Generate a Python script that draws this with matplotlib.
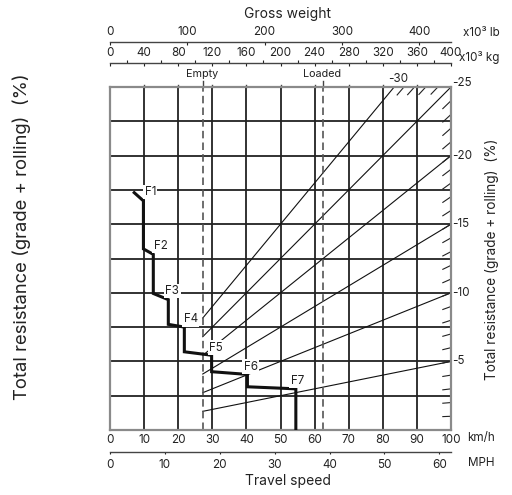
import matplotlib
matplotlib.use('Agg')
import matplotlib.pyplot as plt
import numpy as np

plt.rcParams['font.family'] = ['Inter', 'DejaVu Sans']

# ---------------- data ----------------
speed_kmh = [7.1, 9.8, 9.8, 12.7, 12.7, 17.1, 17.1, 21.8, 21.8, 29.8, 29.8, 40.3, 40.3, 54.5, 54.5]
resistance = [17.3, 16.7, 13.2, 12.8, 9.95, 9.5, 7.7, 7.5, 5.7, 5.45, 4.25, 4.05, 3.15, 3.0, 0.0]
gear_labels = ['F1', 'F2', 'F3', 'F4', 'F5', 'F6', 'F7']
gear_label_x = [11.8, 14.9, 18.3, 23.7, 31.1, 41.3, 54.9]
gear_label_y = [17.35, 13.43, 10.13, 8.06, 5.99, 4.6, 3.57]
grade_lines = [5, 10, 15, 20, 25, 30]          # total resistance %
right_ticks = [5, 10, 15, 20, 25]
right_tick_labels = ['-5', '-10', '-15', '-20', '-25']
empty_weight = 108.8    # x10^3 kg
loaded_weight = 249.6   # x10^3 kg
kmh_ticks = list(range(0, 101, 10))
mph_ticks = list(range(0, 61, 10))
kg_ticks = list(range(0, 401, 40))
lb_ticks = list(range(0, 401, 100))

KG_PER_KMH = 4.0
LB_PER_KG = 1.10231
MPH_PER_KMH = 0.621371

W, H = 512, 495
fig = plt.figure(figsize=(W / 100, H / 100), dpi=100)
L, R, T, B = 110, 451, 87, 430
ax = fig.add_axes([L / W, 1 - B / H, (R - L) / W, (B - T) / H])
ax.set_xlim(0, 100)
ax.set_ylim(0, 25)

def fx(px):
    return px / W

def fy(py):
    return 1 - py / H

FS = 8.4
gridc = '#222222'
spc = '#8a8a8a'
for s in ax.spines.values():
    s.set_color(spc)
    s.set_linewidth(1.6)

# grid
for x in range(10, 100, 10):
    ax.plot([x, x], [0, 25], color=gridc, lw=1.3, zorder=1)
for y in np.arange(2.5, 25, 2.5):
    ax.plot([0, 100], [y, y], color=gridc, lw=1.3, zorder=1)

# radial grade lines (start at empty weight)
x_empty = empty_weight / KG_PER_KMH
x_loaded = loaded_weight / KG_PER_KMH
for r in grade_lines:
    x_end = min(100.0, 2500.0 / r)
    ax.plot([x_empty, x_end], [r * x_empty / 100, r * x_end / 100], color='#111111', lw=0.8, zorder=2)

# hatch marks along right edge and top edge
for r in range(1, 25):
    ax.plot([97.6, 100], [r * 0.976, r * 1.0], color='#222222', lw=0.8, zorder=2, clip_on=False)
for r in [26, 27, 28, 29]:
    xt = 2500.0 / r
    ax.plot([xt - 2.0, xt], [r * (xt - 2.0) / 100, 25], color='#222222', lw=0.8, zorder=2, clip_on=False)

# empty / loaded dashed lines
for xv in [x_empty, x_loaded]:
    ax.plot([xv, xv], [0, 25], color='#555555', lw=1.2, dashes=(4.5, 2.5), zorder=2)
    ax.plot([xv, xv], [25, 25.45], color='#444444', lw=1.0, clip_on=False)

# small ticks on top spine
for x in range(10, 100, 10):
    ax.plot([x, x], [25, 25.15], color='#444444', lw=1.0, clip_on=False)

# rimpull curve
ax.plot(speed_kmh, resistance, color='#111111', lw=2.2, zorder=4, solid_joinstyle='miter')

for lab, gx, gy in zip(gear_labels, gear_label_x, gear_label_y):
    ax.text(gx, gy, lab, fontsize=FS, ha='center', va='center', color='#222222', zorder=5,
            bbox=dict(boxstyle='square,pad=0.12', fc='white', ec='none'))

# bottom km/h axis
ax.set_xticks(kmh_ticks)
ax.set_xticklabels([str(t) for t in kmh_ticks])
ax.tick_params(axis='x', length=0, pad=3, labelsize=FS, colors='#222222')
ax.set_yticks([])

# right labels
for v, lab in zip(right_ticks, right_tick_labels):
    yy = v + (0.3 if v == 25 else 0)
    ax.text(100.4, yy, lab, fontsize=FS, ha='left', va='center', color='#222222', clip_on=False)
ax.text(84.6, 25.6, '-30', fontsize=FS, ha='center', va='center', color='#222222', clip_on=False)

# mph axis
mph_ax = ax.secondary_xaxis(-0.063, functions=(lambda s: s * MPH_PER_KMH, lambda m: m / MPH_PER_KMH))
mph_ax.set_xticks(mph_ticks)
mph_ax.set_xticklabels([str(t) for t in mph_ticks])
mph_ax.tick_params(length=1.5, pad=4, labelsize=FS, colors='#222222', width=0.8)
mph_ax.spines['bottom'].set_color('#444444')
mph_ax.spines['bottom'].set_linewidth(1.0)

# kg axis
kg_ax = ax.secondary_xaxis(1.070, functions=(lambda s: s * KG_PER_KMH, lambda w: w / KG_PER_KMH))
kg_ax.set_xticks(kg_ticks)
kg_ax.set_xticklabels([str(t) for t in kg_ticks])
kg_ax.set_xticks(list(range(20, 400, 40)), minor=True)
kg_ax.tick_params(which='major', length=2, direction='in', pad=3, labelsize=FS, colors='#222222', width=0.8)
kg_ax.tick_params(which='minor', length=2.5, direction='out', width=0.8, colors='#222222')
kg_ax.spines['top'].set_color('#444444')
kg_ax.spines['top'].set_linewidth(1.0)

# lb axis
lb_ax = ax.secondary_xaxis(1.132, functions=(lambda s: s * KG_PER_KMH * LB_PER_KG,
                                               lambda l: l / (KG_PER_KMH * LB_PER_KG)))
lb_ax.set_xticks(lb_ticks)
lb_ax.set_xticklabels([str(t) for t in lb_ticks])
lb_ax.tick_params(length=2, direction='in', pad=3, labelsize=FS, colors='#222222', width=0.8)
lb_ax.spines['top'].set_color('#444444')
lb_ax.spines['top'].set_linewidth(1.0)

# figure texts
tc = '#222222'
fig.text(fx(288), fy(14), 'Gross weight', fontsize=10, ha='center', va='center', color=tc)
fig.text(fx(463), fy(33), 'x10³ lb', fontsize=FS, ha='left', va='center', color=tc)
fig.text(fx(459), fy(57), 'x10³ kg', fontsize=FS, ha='left', va='center', color=tc)
fig.text(fx(202), fy(74), 'Empty', fontsize=7.8, ha='center', va='center', color=tc)
fig.text(fx(322), fy(74), 'Loaded', fontsize=7.8, ha='center', va='center', color=tc)
fig.text(fx(467), fy(438), 'km/h', fontsize=FS, ha='left', va='center', color=tc)
fig.text(fx(468), fy(463), 'MPH', fontsize=FS, ha='left', va='center', color=tc)
fig.text(fx(288), fy(481), 'Travel speed', fontsize=10, ha='center', va='center', color=tc)
fig.text(fx(22), fy(237), 'Total resistance (grade + rolling)  (%)', fontsize=13.3, rotation=90,
         ha='center', va='center', color=tc)
fig.text(fx(492), fy(259), 'Total resistance (grade + rolling)  (%)', fontsize=9.8, rotation=90,
         ha='center', va='center', color=tc)

fig.savefig('out.png', dpi=100)
